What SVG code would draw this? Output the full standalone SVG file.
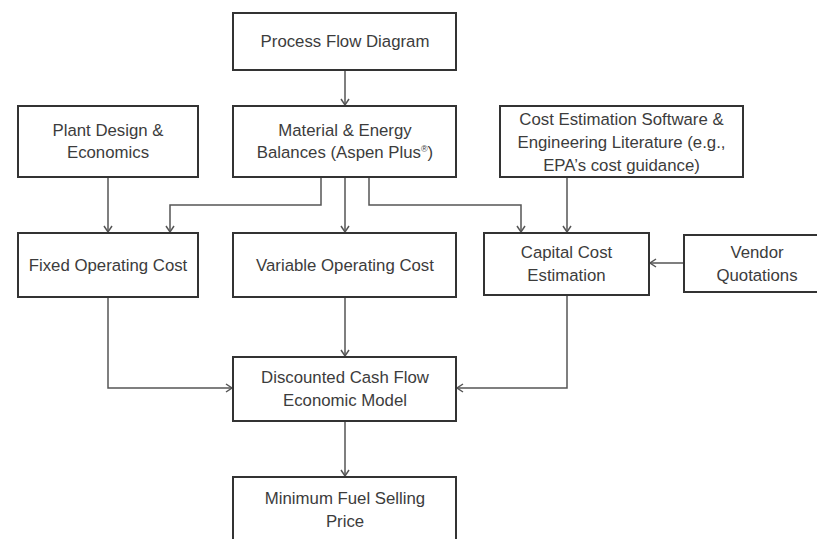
<svg xmlns="http://www.w3.org/2000/svg" width="817" height="539" viewBox="0 0 817 539">
<style>
.box{fill:#fff;stroke:#333;stroke-width:2}
.t{font-family:"Liberation Sans",Arial,sans-serif;font-size:16.8px;fill:#3c3c3c;text-anchor:middle}
.c{fill:none;stroke:#555;stroke-width:1.5;marker-end:url(#ah)}
</style>
<defs>
<marker id="ah" markerWidth="10" markerHeight="10" refX="8" refY="5" orient="auto" markerUnits="userSpaceOnUse">
<path d="M2,1 L8,5 L2,9" fill="none" stroke="#555" stroke-width="1.5"/>
</marker>
</defs>
<rect width="817" height="539" fill="#fff"/>
<g id="connectors">
<path class="c" d="M345,70 V105"/>
<path class="c" d="M321,177 V205 H170 V232"/>
<path class="c" d="M345,177 V232"/>
<path class="c" d="M369,177 V205 H521 V232"/>
<path class="c" d="M108,177 V232"/>
<path class="c" d="M567,177 V232"/>
<path class="c" d="M684,263 H650"/>
<path class="c" d="M108,297 V388 H232"/>
<path class="c" d="M345,297 V356"/>
<path class="c" d="M567,295 V388 H457"/>
<path class="c" d="M345,421 V476"/>
</g>
<g id="pfd">
<rect class="box" x="233" y="13" width="223" height="57"/>
<text class="t" x="345" y="47">Process Flow Diagram</text>
</g>
<g id="plant">
<rect class="box" x="18" y="106" width="180" height="71"/>
<text class="t" x="108" y="136">Plant Design &amp;</text>
<text class="t" x="108" y="158">Economics</text>
</g>
<g id="material">
<rect class="box" x="233" y="106" width="223" height="71"/>
<text class="t" x="345" y="136">Material &amp; Energy</text>
<text class="t" x="345" y="158">Balances (Aspen Plus<tspan font-size="9" dy="-6">®</tspan><tspan dy="6">)</tspan></text>
</g>
<g id="costest">
<rect class="box" x="500" y="106" width="243" height="71"/>
<text class="t" x="621.5" y="125">Cost Estimation Software &amp;</text>
<text class="t" x="621.5" y="148">Engineering Literature (e.g.,</text>
<text class="t" x="621.5" y="171">EPA’s cost guidance)</text>
</g>
<g id="fixed">
<rect class="box" x="18" y="233" width="180" height="64"/>
<text class="t" x="108" y="271">Fixed Operating Cost</text>
</g>
<g id="variable">
<rect class="box" x="233" y="233" width="223" height="64"/>
<text class="t" x="345" y="271">Variable Operating Cost</text>
</g>
<g id="capital">
<rect class="box" x="484" y="233" width="165" height="62"/>
<text class="t" x="566.5" y="258">Capital Cost</text>
<text class="t" x="566.5" y="281">Estimation</text>
</g>
<g id="vendor">
<rect class="box" x="684" y="235" width="146" height="57"/>
<text class="t" x="757" y="258">Vendor</text>
<text class="t" x="757" y="281">Quotations</text>
</g>
<g id="dcf">
<rect class="box" x="233" y="357" width="223" height="64"/>
<text class="t" x="345" y="383">Discounted Cash Flow</text>
<text class="t" x="345" y="406">Economic Model</text>
</g>
<g id="mfsp">
<rect class="box" x="233" y="477" width="223" height="70"/>
<text class="t" x="345" y="504">Minimum Fuel Selling</text>
<text class="t" x="345" y="527">Price</text>
</g>
</svg>
